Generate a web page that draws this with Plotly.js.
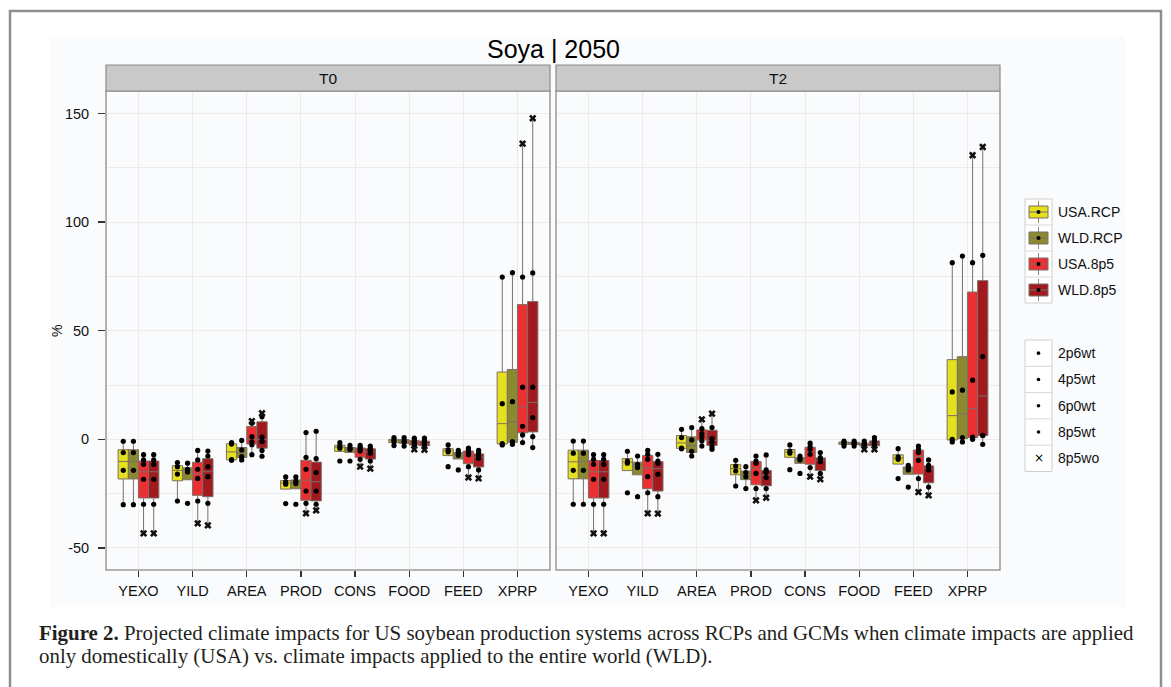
<!DOCTYPE html>
<html><head><meta charset="utf-8">
<script src="https://cdn.plot.ly/plotly-3.0.1.min.js"></script>
<style>html,body{margin:0;padding:0;background:#fff}#chart{width:1171px;height:687px}</style>
</head><body><div id="chart"></div>
<script>
// ---------------- DATA ----------------
const categories = ['YEXO','YILD','AREA','PROD','CONS','FOOD','FEED','XPRP'];
const groups = ['USA.RCP','WLD.RCP','USA.8p5','WLD.8p5'];
const panels = ['T0','T2'];
const shapeLabels = ['2p6wt','4p5wt','6p0wt','8p5wt','8p5wo'];

// T0 — RCP groups (2p6wt, 4p5wt, 6p0wt, 8p5wt)
const T0_USA_RCP = [[-0.9,-6.1,-14.3,-30.1],[-10.7,-12.6,-16.0,-28.4],[-1.5,-2.2,-9.4,-9.6],[-17.3,-19.6,-20.7,-29.6],[-1.5,-3.1,-4.1,-10.0],[0.8,-0.3,-1.1,-2.9],[-2.6,-4.9,-5.8,-12.6],[74.7,16.4,-2.0,-2.6]];
const T0_WLD_RCP = [[-0.9,-6.1,-14.3,-30.1],[-11.0,-13.8,-15.0,-29.5],[-0.5,-4.9,-8.0,-9.5],[-17.3,-19.2,-20.4,-29.9],[-2.8,-4.1,-4.7,-10.0],[0.8,-0.5,-1.4,-3.1],[-5.1,-6.4,-7.4,-14.1],[76.7,17.3,-1.1,-2.3]];
// T0 — 8p5 groups (8p5wt values, and the 8p5wo value)
const T0_USA_8P5_WT = [[-7.1,-9.5,-11.5,-18.4,-29.9],[-5.1,-9.5,-13.8,-18.0,-28.4],[7.4,1.2,-1.2,-2.5,-7.1],[3.1,-8.3,-13.8,-23.8,-29.5],[-2.8,-3.8,-4.6,-5.4,-9.2],[0.5,-0.5,-1.2,-2.0,-2.8],[-4.1,-5.2,-6.1,-7.1,-12.6],[74.7,24.0,6.0,2.0,-1.5]];
const T0_USA_8P5_WO = [-43.3,-38.7,8.4,-34.1,-12.6,-4.6,-17.6,136.1];
const T0_WLD_8P5_WT = [[-7.1,-9.5,-11.5,-18.4,-29.9],[-5.4,-7.7,-12.6,-17.2,-29.5],[10.4,1.0,-1.0,-5.1,-7.8],[3.7,-8.9,-15.3,-23.8,-29.9],[-3.1,-4.1,-5.2,-6.4,-10.0],[0.6,-0.6,-1.6,-2.5,-3.1],[-5.1,-6.4,-7.7,-8.7,-14.1],[76.6,24.0,10.0,1.2,-3.8]];
const T0_WLD_8P5_WO = [-43.3,-39.6,12.0,-32.7,-13.5,-4.8,-18.0,147.8];

// T2
const T2_USA_RCP = [[-0.8,-6.4,-14.3,-29.9],[-5.5,-10.0,-11.0,-24.6],[4.6,0.8,-4.1,-4.4],[-9.7,-12.3,-14.6,-21.5],[-2.6,-5.4,-6.4,-14.0],[-0.8,-1.4,-2.1,-3.1],[-4.3,-8.1,-9.2,-18.1],[81.3,21.8,0.0,-1.2]];
const T2_WLD_RCP = [[-0.8,-6.4,-14.3,-29.9],[-7.7,-11.5,-13.0,-26.4],[5.4,-0.3,-5.5,-7.7],[-12.6,-15.3,-17.2,-22.7],[-7.7,-8.7,-9.5,-15.7],[-0.8,-1.6,-2.1,-3.1],[-12.0,-13.0,-14.1,-22.0],[84.4,22.6,0.8,-1.2]];
const T2_USA_8P5_WT = [[-7.1,-9.2,-11.5,-18.4,-29.9],[-5.1,-6.9,-9.2,-17.2,-24.6],[4.9,2.6,1.1,-0.8,-3.1],[-7.7,-10.0,-11.0,-15.7,-22.7],[-1.8,-3.4,-4.6,-6.9,-13.0],[-0.8,-1.7,-2.3,-2.6,-3.1],[-3.1,-4.6,-6.1,-9.7,-18.1],[81.3,27.2,1.0,0.7,0.0]];
const T2_USA_8P5_WO = [-43.3,-34.1,9.2,-28.1,-17.2,-4.6,-24.3,130.8];
const T2_WLD_8P5_WT = [[-7.1,-9.2,-11.5,-18.4,-29.9],[-6.9,-10.0,-11.0,-16.1,-26.4],[5.4,0.3,-1.2,-3.4,-4.6],[-7.2,-14.1,-15.3,-17.6,-22.7],[-6.1,-8.4,-9.2,-10.3,-15.7],[0.8,-0.5,-1.5,-2.5,-3.1],[-9.5,-12.0,-13.0,-14.1,-22.0],[84.7,38.1,1.8,1.7,-2.3]];
const T2_WLD_8P5_WO = [-43.3,-34.2,11.8,-26.9,-18.4,-4.6,-25.8,134.6];

const yTickVals = [-50,0,50,100,150];
const yTickText = ['-50','0','50','100','150'];

// ---------------- STYLE ----------------
const W = 1171, H = 687;
const px = x => x / W;
const py = y => 1 - y / H;
const groupColors = ['#e4e01e','#8b8a30','#ea3033','#a01a1f'];
const boxLine = '#7d6f67';
const offsets = [-0.28125,-0.09375,0.09375,0.28125];
const boxW = 0.19;
const FONT = 'Liberation Sans, Arial, sans-serif';

const dataSets = [
  [ {wt:T0_USA_RCP}, {wt:T0_WLD_RCP}, {wt:T0_USA_8P5_WT, wo:T0_USA_8P5_WO}, {wt:T0_WLD_8P5_WT, wo:T0_WLD_8P5_WO} ],
  [ {wt:T2_USA_RCP}, {wt:T2_WLD_RCP}, {wt:T2_USA_8P5_WT, wo:T2_USA_8P5_WO}, {wt:T2_WLD_8P5_WT, wo:T2_WLD_8P5_WO} ]
];

function quant(s, p){ const h=(s.length-1)*p, lo=Math.floor(h); return lo+1<s.length ? s[lo]+(h-lo)*(s[lo+1]-s[lo]) : s[lo]; }
function stats(v){
  const s=[...v].sort((a,b)=>a-b);
  const q1=quant(s,0.25), med=quant(s,0.5), q3=quant(s,0.75), iqr=q3-q1;
  const lf=Math.min(...s.filter(d=>d>=q1-1.5*iqr));
  const uf=Math.max(...s.filter(d=>d<=q3+1.5*iqr));
  return {q1,med,q3,lf,uf};
}

const traces = [];
dataSets.forEach((panel, pi) => {
  const xa = pi===0 ? 'x' : 'x2', ya = pi===0 ? 'y' : 'y2';
  const dotX=[], dotY=[], woX=[], woY=[];
  panel.forEach((grp, gi) => {
    const xs=[], q1=[], med=[], q3=[], lf=[], uf=[];
    categories.forEach((c, ci) => {
      const vals = grp.wt[ci].slice();
      if (grp.wo) vals.push(grp.wo[ci]);
      const st = stats(vals);
      const xpos = ci + 1 + offsets[gi];
      xs.push(xpos); q1.push(st.q1); med.push(st.med); q3.push(st.q3); lf.push(st.lf); uf.push(st.uf);
      grp.wt[ci].forEach(v => { dotX.push(xpos); dotY.push(v); });
      if (grp.wo) { woX.push(xpos); woY.push(grp.wo[ci]); }
    });
    traces.push({type:'box', orientation:'v', name:groups[gi], x:xs, q1:q1, median:med, q3:q3,
      lowerfence:lf, upperfence:uf, width:boxW, whiskerwidth:0, boxpoints:false,
      fillcolor:groupColors[gi], line:{color:boxLine, width:1}, xaxis:xa, yaxis:ya,
      showlegend:false, hoverinfo:'skip'});
  });
  traces.push({type:'scatter', mode:'markers', x:dotX, y:dotY, xaxis:xa, yaxis:ya,
    marker:{symbol:'circle', size:5.2, color:'#000'}, showlegend:false, hoverinfo:'skip'});
  traces.push({type:'scatter', mode:'markers', x:woX, y:woY, xaxis:xa, yaxis:ya,
    marker:{symbol:'x', size:6.5, color:'#111'}, showlegend:false, hoverinfo:'skip'});
});

// ---------------- LAYOUT ----------------
const yRange = [(439.3-570)/2.172, (439.3-91)/2.172];
const gridC = '#ebebeb';
function xAxis(dom, anchor){
  return {domain:dom, anchor:anchor, range:[0.4,8.6], tickmode:'array',
    tickvals:categories.map((c,i)=>i+1), ticktext:categories,
    showgrid:true, gridcolor:gridC, gridwidth:1, zeroline:false,
    ticks:'outside', ticklen:6, tickwidth:1.3, tickcolor:'#333',
    tickfont:{family:FONT, size:14.5, color:'#111'}, ticklabelstandoff:2, fixedrange:true,
    showline:false};
}
function yAxis(anchor, labels){
  return {domain:[py(570), py(91)], anchor:anchor, range:yRange, tickmode:'array',
    tickvals:yTickVals, ticktext:yTickText, showticklabels:labels,
    showgrid:true, gridcolor:gridC, gridwidth:1, zeroline:false,
    minor:{tick0:0, dtick:25, showgrid:true, gridcolor:gridC, gridwidth:1, ticks:''},
    ticks: labels ? 'outside' : '', ticklen:7, tickwidth:1.3, tickcolor:'#333',
    tickfont:{family:FONT, size:14.5, color:'#111'}, ticklabelstandoff:6, fixedrange:true};
}

const shapes = [];
const ann = [];
function rect(x0,y0,x1,y1,fill,lineC,lw,layer){
  shapes.push({type:'rect', xref:'paper', yref:'paper', x0:px(x0), x1:px(x1), y0:py(y1), y1:py(y0),
    fillcolor:fill||'rgba(0,0,0,0)', line:{color:lineC||'rgba(0,0,0,0)', width:lw||0}, layer:layer||'above'});
}
function line(x0,y0,x1,y1,c,w,layer){
  shapes.push({type:'line', xref:'paper', yref:'paper', x0:px(x0), x1:px(x1), y0:py(y0), y1:py(y1),
    line:{color:c, width:w}, layer:layer||'above'});
}
function text(t,x,y,size,anchor,opts){
  ann.push(Object.assign({text:t, xref:'paper', yref:'paper', x:px(x), y:py(y), xanchor:anchor||'center',
    yanchor:'middle', showarrow:false, font:{family:FONT, size:size, color:'#111'}}, opts||{}));
}

// background of the figure area and outer frame
rect(50,37,1125,607,'#fafbfc',null,0,'below');
rect(10,11,1161,700,null,'#8e8e8e',2.5,'above');

// panel borders and strips
[[106,550],[556,1000]].forEach(([a,b],i)=>{
  rect(a,91,b,570,null,'#9a9a9a',1.5,'above');
  rect(a,65,b,91,'#c9c9c9','#8c8c8c',1.2,'above');
  text(panels[i], (a+b)/2, 78.5, 15.5, 'center');
});

// title and axis title
text('Soya | 2050', 553, 49, 25, 'center', {font:{family:FONT, size:25, color:'#000'}});
text('%', 57, 331, 14, 'center', {textangle:-90});

// legend 1 : groups
const leg1Top = 199, cellH = 26;
rect(1025, leg1Top, 1052, leg1Top + cellH*groups.length, '#ffffff', '#cfcfcf', 1);
groups.forEach((g,i)=>{
  const y0 = leg1Top + i*cellH, yc = y0 + cellH/2;
  if (i>0) line(1025,y0,1052,y0,'#d8d8d8',1);
  line(1038.5,y0+2,1038.5,y0+cellH-2,'#8a8a8a',1);
  rect(1029,yc-6,1048,yc+6,groupColors[i],boxLine,1);
  line(1029,yc,1048,yc,boxLine,1);
  shapes.push({type:'circle', xref:'paper', yref:'paper', xsizemode:'pixel', ysizemode:'pixel',
    xanchor:px(1038.5), yanchor:py(yc), x0:-2, x1:2, y0:-2, y1:2, fillcolor:'#000', line:{width:0}});
  text(g, 1056, yc, 14, 'left');
});

// legend 2 : scenario shapes
const leg2Top = 340, cell2 = 26.3;
rect(1025, leg2Top, 1052, leg2Top + cell2*shapeLabels.length, '#ffffff', '#cfcfcf', 1);
shapeLabels.forEach((s,i)=>{
  const y0 = leg2Top + i*cell2, yc = y0 + cell2/2;
  if (i>0) line(1025,y0,1052,y0,'#d8d8d8',1);
  if (s === '8p5wo') {
    text('×', 1038.5, yc, 13, 'center', {font:{family:'DejaVu Sans', size:12, color:'#000'}});
  } else {
    shapes.push({type:'circle', xref:'paper', yref:'paper', xsizemode:'pixel', ysizemode:'pixel',
      xanchor:px(1038.5), yanchor:py(yc), x0:-1.8, x1:1.8, y0:-1.8, y1:1.8, fillcolor:'#000', line:{width:0}});
  }
  text(s, 1056, yc, 14, 'left');
});

// caption
const capFont = {family:'Liberation Serif, Times New Roman, serif', size:20.9, color:'#231f20'};
text('<b>Figure 2.</b> Projected climate impacts for US soybean production systems across RCPs and GCMs when climate impacts are applied', 37, 633, 20.9, 'left', {font:capFont});
text('only domestically (USA) vs. climate impacts applied to the entire world (WLD).', 37, 656, 20.9, 'left', {font:capFont});

const layout = {
  width:W, height:H, margin:{l:0,r:0,t:0,b:0},
  paper_bgcolor:'#ffffff', plot_bgcolor:'#fdfdfe',
  showlegend:false, boxmode:'overlay',
  xaxis: xAxis([px(106),px(550)], 'y'),
  xaxis2: xAxis([px(556),px(1000)], 'y2'),
  yaxis: yAxis('x', true),
  yaxis2: Object.assign(yAxis('x2', false), {matches:'y'}),
  shapes: shapes, annotations: ann
};

Plotly.newPlot('chart', traces, layout, {staticPlot:true, displayModeBar:false});
</script>
</body></html>
